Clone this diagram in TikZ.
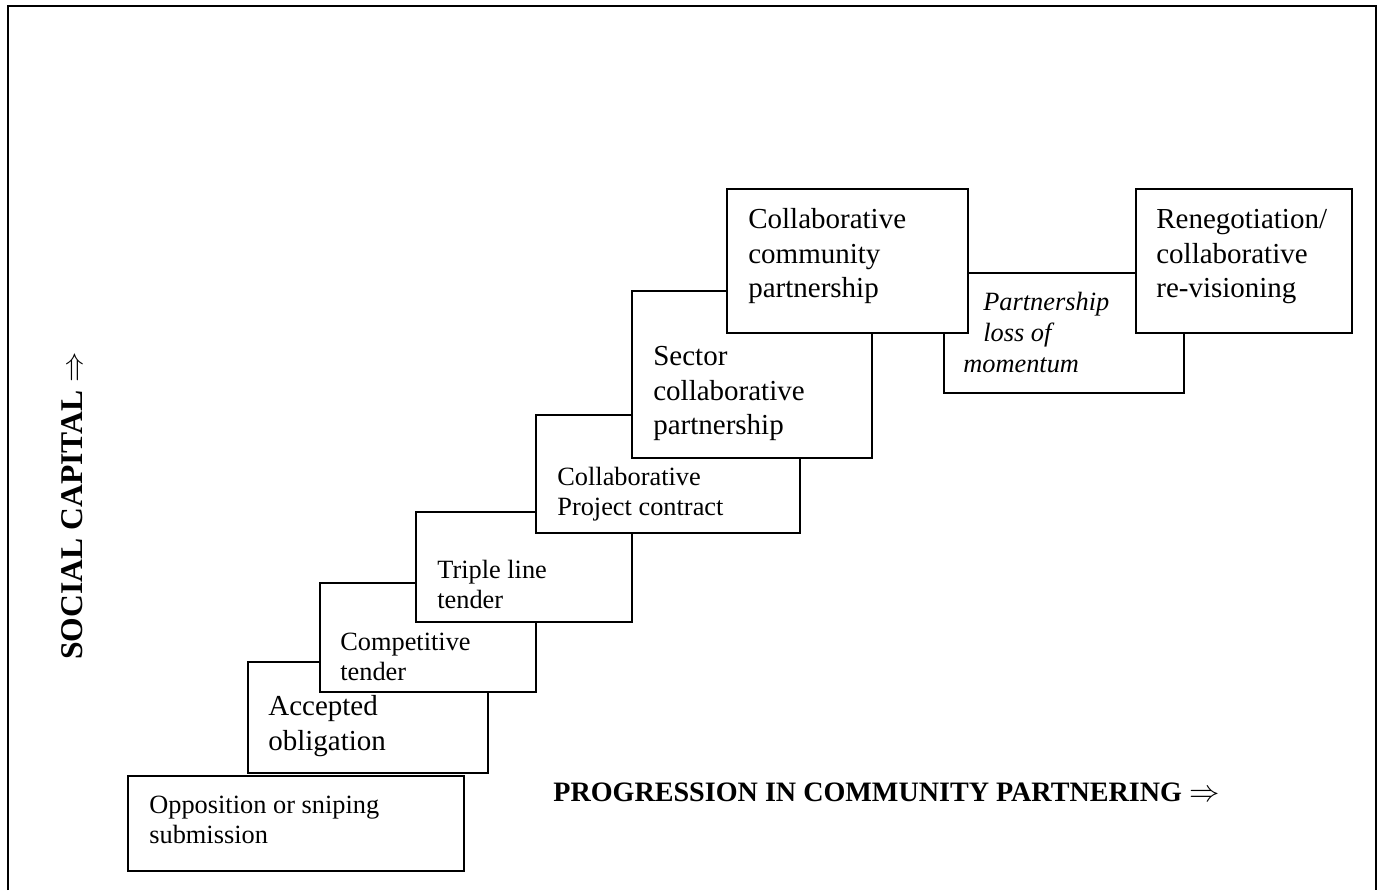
\documentclass[tikz,border=0pt]{standalone}
\usepackage{fontspec}
\setmainfont{Liberation Serif}
\usetikzlibrary{positioning}

\tikzset{
  stepbox/.style={draw, fill=white, line width=1.1pt, anchor=north west, outer sep=0pt, inner sep=0pt},
  smalltext/.style={align=left, inner sep=0pt, font=\fontsize{15}{17.1}\selectfont},
  largetext/.style={align=left, inner sep=0pt, font=\fontsize{16.5}{19.7}\selectfont},
  axislabel/.style={inner sep=0pt, font=\fontsize{16}{19}\selectfont\bfseries}
}

\begin{document}
\begin{tikzpicture}[x=0.02cm, y=-0.02cm]
  \useasboundingbox (0,0) rectangle (1380,890);
  % frame, bottom edge runs off the page
  \draw[line width=1.1pt] (8,890) -- (8,6) -- (1376,6) -- (1376,890);

  % steps, lowest first so each one lies over the one before
  \node[stepbox, minimum width=6.72cm, minimum height=1.90cm] (opp) at (128,776) {};
  \node[smalltext, below right=0.40cm and 0.42cm of opp.north west] (opptext) {Opposition or sniping\\submission};

  \node[stepbox, minimum width=4.80cm, minimum height=2.22cm] (accepted) at (248,662) {};
  \node[largetext, below right=0.66cm and 0.40cm of accepted.north west] (acceptedtext) {Accepted\\obligation};

  \node[stepbox, minimum width=4.32cm, minimum height=2.18cm] (competitive) at (320,583) {};
  \node[smalltext, below right=1.00cm and 0.40cm of competitive.north west] (competitivetext) {Competitive\\tender};

  \node[stepbox, minimum width=4.32cm, minimum height=2.20cm] (triple) at (416,512) {};
  \node[smalltext, below right=0.96cm and 0.42cm of triple.north west] (tripletext) {Triple line\\tender};

  \node[stepbox, minimum width=5.28cm, minimum height=2.36cm] (project) at (536,415) {};
  \node[smalltext, below right=1.04cm and 0.42cm of project.north west] (projecttext) {Collaborative\\Project contract};

  \node[stepbox, minimum width=4.80cm, minimum height=3.34cm] (sector) at (632,291) {};
  \node[largetext, below right=1.10cm and 0.42cm of sector.north west] (sectortext) {Sector\\collaborative\\partnership};

  \node[stepbox, minimum width=4.80cm, minimum height=2.40cm] (loss) at (944,273) {};
  \node[smalltext, font=\fontsize{15}{17.6}\selectfont\itshape, below right=0.38cm and 0.38cm of loss.north west] (losstext) {\hspace*{0.4cm}Partnership\\\hspace*{0.4cm}loss of\\momentum};

  \node[stepbox, minimum width=4.82cm, minimum height=2.88cm] (community) at (727,189) {};
  \node[largetext, below right=0.38cm and 0.42cm of community.north west] (communitytext) {Collaborative\\community\\partnership};

  \node[stepbox, minimum width=4.32cm, minimum height=2.88cm] (renegotiation) at (1136,189) {};
  \node[largetext, below right=0.40cm and 0.40cm of renegotiation.north west] (renegotiationtext) {Renegotiation/\\collaborative\\re-visioning};

  % axes
  \node[axislabel, anchor=base west] (progression) at (553,801) {PROGRESSION IN COMMUNITY PARTNERING $\Rightarrow$};
  \node[axislabel, font=\fontsize{18}{21}\selectfont\bfseries, anchor=base west, rotate=90] (capital) at (82,660) {SOCIAL CAPITAL $\Rightarrow$};
\end{tikzpicture}
\end{document}
